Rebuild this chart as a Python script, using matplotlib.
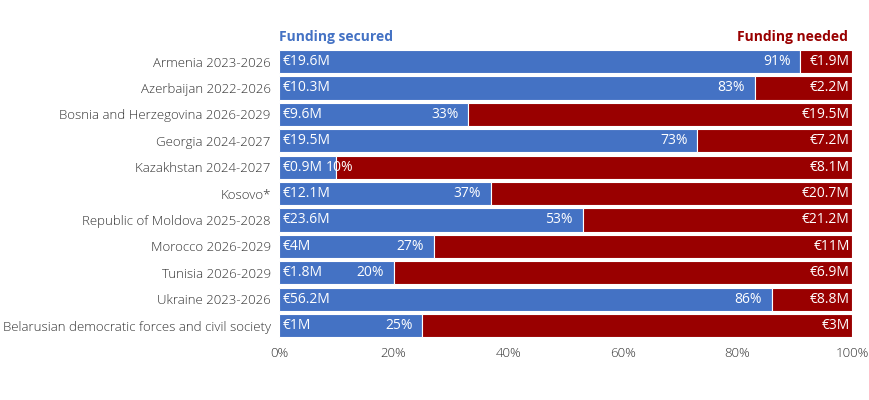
import matplotlib.pyplot as plt
from matplotlib.ticker import FuncFormatter

# Data
countries = [
    "Armenia 2023-2026",
    "Azerbaijan 2022-2026",
    "Bosnia and Herzegovina 2026-2029",
    "Georgia 2024-2027",
    "Kazakhstan 2024-2027",
    "Kosovo*",
    "Republic of Moldova 2025-2028",
    "Morocco 2026-2029",
    "Tunisia 2026-2029",
    "Ukraine 2023-2026",
    "Belarusian democratic forces and civil society",
]
secured_labels = ["€19.6M", "€10.3M", "€9.6M", "€19.5M", "€0.9M", "€12.1M",
                  "€23.6M", "€4M", "€1.8M", "€56.2M", "€1M"]
needed_labels = ["€1.9M", "€2.2M", "€19.5M", "€7.2M", "€8.1M", "€20.7M",
                 "€21.2M", "€11M", "€6.9M", "€8.8M", "€3M"]
secured_pct = [91, 83, 33, 73, 10, 37, 53, 27, 20, 86, 25]

BLUE = "#4472C4"
RED = "#990000"
FONT = "Open Sans"

plt.rcParams["font.family"] = [FONT, "DejaVu Sans"]
plt.rcParams["font.size"] = 10

fig = plt.figure(figsize=(8.7, 4), dpi=100)
ax = fig.add_axes([0.3207, 0.153, 0.6586, 0.726])

y = list(range(len(countries)))
needed_pct = [100 - p for p in secured_pct]
ax.barh(y, secured_pct, height=0.88, color=BLUE, edgecolor="white", linewidth=0.8)
ax.barh(y, needed_pct, left=secured_pct, height=0.88, color=RED,
        edgecolor="white", linewidth=0.8)

ax.set_xlim(0, 100)
ax.set_ylim(len(countries) - 0.5, -0.5)
ax.set_yticks(y)
ax.set_yticklabels(countries, color="#2b2b2b", fontweight="light", fontsize=9.5)
ax.set_xticks(range(0, 101, 20))
ax.xaxis.set_major_formatter(FuncFormatter(lambda v, _: f"{v:.0f}%"))
ax.tick_params(length=0, pad=6, colors="#333333")
for lab in ax.get_xticklabels():
    lab.set_fontweight("light")
    lab.set_fontsize(9.5)
for s in ax.spines.values():
    s.set_visible(False)

fig.canvas.draw()
renderer = fig.canvas.get_renderer()
inv = ax.transData.inverted()

for i in y:
    left = ax.text(0.7, i, secured_labels[i], ha="left", va="center",
                   color="white")
    ax.text(99.6, i, needed_labels[i], ha="right", va="center",
            color="white")
    pct = ax.text(secured_pct[i] - 1.7, i, f"{secured_pct[i]}%", ha="right",
                  va="center", color="white")
    # keep the percent label clear of the value label on short bars
    lb = left.get_window_extent(renderer)
    pb = pct.get_window_extent(renderer)
    if pb.x0 < lb.x1 + 3:
        x_new = inv.transform((lb.x1 + 3, 0))[0]
        pct.set_ha("left")
        pct.set_x(x_new)

fig.text(0.3207, 0.908, "Funding secured", color=BLUE, fontweight="bold",
         ha="left", va="center")
fig.text(0.975, 0.908, "Funding needed", color=RED, fontweight="bold",
         ha="right", va="center")

fig.savefig("out.png", dpi=100)
